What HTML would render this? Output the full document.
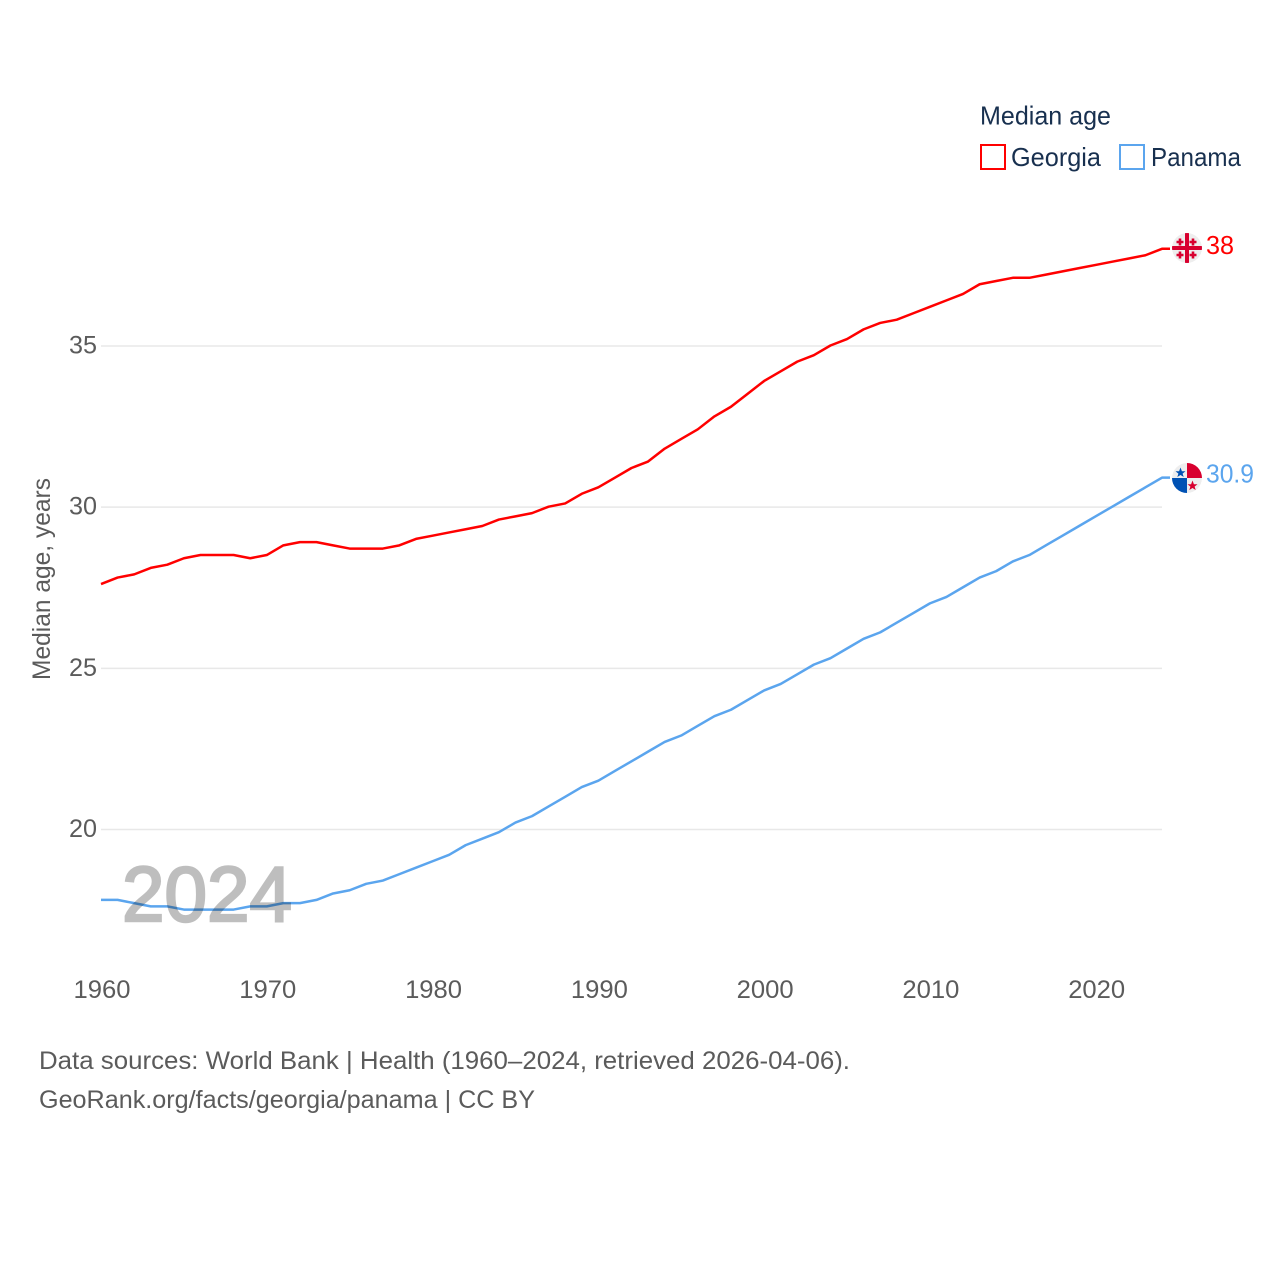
<!DOCTYPE html>
<html lang="en">
<head>
<meta charset="utf-8">
<title>Median age: Georgia and Panama</title>
<style>
html,body{margin:0;padding:0;background:#fff;}
svg{display:block;font-family:"Liberation Sans",sans-serif;}
</style>
</head>
<body>
<svg id="chart" xmlns="http://www.w3.org/2000/svg" width="1280" height="1280" viewBox="0 0 1280 1280">
  <defs>
    <clipPath id="clip-georgia"><circle cx="1187" cy="248" r="15"/></clipPath>
    <clipPath id="clip-panama"><circle cx="1187" cy="478" r="15"/></clipPath>
  </defs>
  <g id="grid"></g>
  <g id="y-ticks"></g>
  <g id="x-ticks"></g>
  <text transform="translate(50,680) rotate(-90)" font-size="25" fill="#5b5b5b" textLength="202" lengthAdjust="spacingAndGlyphs">Median age, years</text>
  <g id="lines"></g>
  <text x="122" y="921" font-size="78" fill="#000" stroke="#000" stroke-width="2.5" opacity="0.25" textLength="170" lengthAdjust="spacingAndGlyphs">2024</text>

  <g clip-path="url(#clip-georgia)">
    <circle cx="1187" cy="248" r="15" fill="#eeeeee"/>
    <rect x="1172" y="246" width="30" height="4" fill="#d8002f"/>
    <rect x="1185" y="233" width="4" height="30" fill="#d8002f"/>
    <path d="M1178.700 238.500h2.600v2.200h2.200v2.600h-2.200v2.200h-2.600v-2.200h-2.200v-2.600h2.200zM1191.700 238.500h2.600v2.200h2.200v2.600h-2.200v2.200h-2.600v-2.200h-2.200v-2.600h2.200zM1178.700 251.500h2.600v2.200h2.200v2.600h-2.200v2.200h-2.600v-2.200h-2.200v-2.600h2.200zM1191.700 251.500h2.600v2.200h2.200v2.600h-2.200v2.200h-2.600v-2.200h-2.200v-2.600h2.200z" fill="#d8002f"/>
  </g>
  <g clip-path="url(#clip-panama)">
    <circle cx="1187" cy="478" r="15" fill="#eeeeee"/>
    <rect x="1187" y="463" width="15" height="15" fill="#d8002f"/>
    <rect x="1172" y="478" width="15" height="15" fill="#0052b4"/>
    <polygon points="1180.500,467.500 1181.900,471.300 1185.500,471.300 1182.600,473.600 1183.700,477 1180.500,475 1177.300,477 1178.400,473.600 1175.500,471.300 1179.100,471.300" fill="#0052b4"/>
    <polygon points="1192.500,480.500 1193.900,484.300 1197.500,484.300 1194.600,486.600 1195.700,490 1192.500,488 1189.300,490 1190.400,486.600 1187.500,484.300 1191.100,484.300" fill="#d8002f"/>
  </g>
  <g id="end-labels"></g>

  <g fill="#18304f">
    <text x="980" y="124.500" font-size="26" textLength="131" lengthAdjust="spacingAndGlyphs">Median age</text>
    <g>
      <rect x="981" y="145" width="24" height="24" fill="none" stroke="#ff0000" stroke-width="2"/>
      <text x="1011" y="166" font-size="26" textLength="90" lengthAdjust="spacingAndGlyphs">Georgia</text>
    </g>
    <g>
      <rect x="1120" y="145" width="24" height="24" fill="none" stroke="#5ba5ee" stroke-width="2"/>
      <text x="1151" y="166" font-size="26" textLength="90" lengthAdjust="spacingAndGlyphs">Panama</text>
    </g>
  </g>

  <g fill="#5b5b5b" font-size="25">
    <text x="39" y="1069" textLength="811" lengthAdjust="spacingAndGlyphs">Data sources: World Bank | Health (1960–2024, retrieved 2026-04-06).</text>
    <text x="39" y="1108" textLength="496" lengthAdjust="spacingAndGlyphs">GeoRank.org/facts/georgia/panama | CC BY</text>
  </g>
</svg>
<script>
const years = [1960,1961,1962,1963,1964,1965,1966,1967,1968,1969,1970,1971,1972,1973,1974,1975,1976,1977,1978,1979,1980,1981,1982,1983,1984,1985,1986,1987,1988,1989,1990,1991,1992,1993,1994,1995,1996,1997,1998,1999,2000,2001,2002,2003,2004,2005,2006,2007,2008,2009,2010,2011,2012,2013,2014,2015,2016,2017,2018,2019,2020,2021,2022,2023,2024];
const georgiaValues = [27.6,27.8,27.9,28.1,28.2,28.4,28.5,28.5,28.5,28.4,28.5,28.8,28.9,28.9,28.8,28.7,28.7,28.7,28.8,29.0,29.1,29.2,29.3,29.4,29.6,29.7,29.8,30.0,30.1,30.4,30.6,30.9,31.2,31.4,31.8,32.1,32.4,32.8,33.1,33.5,33.9,34.2,34.5,34.7,35.0,35.2,35.5,35.7,35.8,36.0,36.2,36.4,36.6,36.9,37.0,37.1,37.1,37.2,37.3,37.4,37.5,37.6,37.7,37.8,38.0];
const panamaValues = [17.8,17.8,17.7,17.6,17.6,17.5,17.5,17.5,17.5,17.6,17.6,17.7,17.7,17.8,18.0,18.1,18.3,18.4,18.6,18.8,19.0,19.2,19.5,19.7,19.9,20.2,20.4,20.7,21.0,21.3,21.5,21.8,22.1,22.4,22.7,22.9,23.2,23.5,23.7,24.0,24.3,24.5,24.8,25.1,25.3,25.6,25.9,26.1,26.4,26.7,27.0,27.2,27.5,27.8,28.0,28.3,28.5,28.8,29.1,29.4,29.7,30.0,30.3,30.6,30.9];
const yTickValues = [20,25,30,35];
const xTickValues = [1960,1970,1980,1990,2000,2010,2020];
const georgiaEndLabel = "38";
const panamaEndLabel = "30.9";

const NS = 'http://www.w3.org/2000/svg';
function xScale(year){ return 101 + (year - 1960) * (1162 - 101) / 64; }
function yScale(v){ return 829.5 - (v - 20) * (829.5 - 346) / 15; }
function make(tag, parent, attrs, text){
  const el = document.createElementNS(NS, tag);
  for (const k in attrs) el.setAttribute(k, attrs[k]);
  if (text !== undefined) el.textContent = text;
  parent.appendChild(el);
  return el;
}
const gridG = document.getElementById('grid');
const yG = document.getElementById('y-ticks');
const xG = document.getElementById('x-ticks');
const linesG = document.getElementById('lines');
const labelsG = document.getElementById('end-labels');

yTickValues.forEach(function(t){
  const gl = make('line', gridG, {x1:101, x2:1162, y1:yScale(t), y2:yScale(t), stroke:'#e8e8e8', 'stroke-width':1.5});
  
  
  const lab = make('text', yG, {x:97, y:yScale(t)+7.5, 'text-anchor':'end', 'font-size':25, fill:'#5b5b5b', textLength:28, lengthAdjust:'spacingAndGlyphs'}, String(t));
  
  
});
xTickValues.forEach(function(t){
  const lab = make('text', xG, {x:xScale(t)-27.500, y:998, 'font-size':25, fill:'#5b5b5b', textLength:57, lengthAdjust:'spacingAndGlyphs'}, String(t));
  
  
});
function drawSeries(values, color, name){
  const pts = values.map(function(v,i){ return xScale(years[i]).toFixed(2) + ',' + (yScale(v) - 0.5).toFixed(2); });
  const last = values[values.length-1];
  pts.push((xScale(years[years.length-1]) + 8).toFixed(2) + ',' + (yScale(last) - 0.5).toFixed(2));
  const line = make('polyline', linesG, {points:pts.join(' '), fill:'none', stroke:color, 'stroke-width':2.5, 'stroke-linejoin':'round'});
  
  
}
drawSeries(georgiaValues, '#ff0000', 'line-georgia');
drawSeries(panamaValues, '#5ba5ee', 'line-panama');

const gLabel = make('text', labelsG, {x:1206, y:yScale(georgiaValues[georgiaValues.length-1])+4.5, 'font-size':26, fill:'#ff0000', textLength:28, lengthAdjust:'spacingAndGlyphs'}, georgiaEndLabel);


const pLabel = make('text', labelsG, {x:1206, y:yScale(panamaValues[panamaValues.length-1])+4.5, 'font-size':26, fill:'#5ba5ee', textLength:48, lengthAdjust:'spacingAndGlyphs'}, panamaEndLabel);


</script>
</body>
</html>
